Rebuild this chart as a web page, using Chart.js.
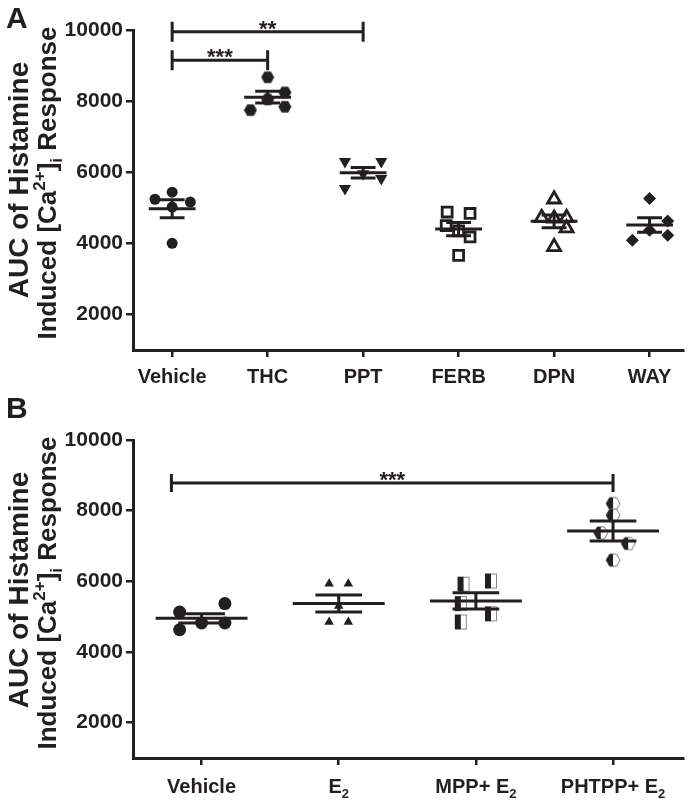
<!DOCTYPE html>
<html>
<head>
<meta charset="utf-8">
<script src="https://cdn.jsdelivr.net/npm/chart.js@4.4.1/dist/chart.umd.min.js"></script>
<style>
  html, body { margin: 0; padding: 0; background: #fff; }
  #wrap { position: relative; width: 694px; height: 801px; }
  .panel { position: absolute; left: 0; width: 694px; }
  #pa { top: 0; height: 390px; }
  #pb { top: 390px; height: 411px; }
</style>
</head>
<body>
<div id="wrap">
  <div class="panel" id="pa"><canvas id="chartA"></canvas></div>
  <div class="panel" id="pb"><canvas id="chartB"></canvas></div>
</div>
<script>
// ── data ─────────────────────────────────────────────
const Y_TICKS = [2000, 4000, 6000, 8000, 10000];
const Y_TITLE = ['AUC of Histamine', 'Induced [Ca^{2+}]_{i} Response'];

const A_GROUPS = ['Vehicle', 'THC', 'PPT', 'FERB', 'DPN', 'WAY'];
const A_VEHICLE = [5440, 5240, 5160, 5020, 4000];
const A_THC     = [8670, 8245, 8048, 7840, 7746];
const A_PPT     = [6300, 6300, 5960, 5820, 5540];
const A_FERB    = [4880, 4840, 4500, 4350, 4180, 3660];
const A_DPN     = [5240, 4720, 4720, 4700, 4430, 3900];
const A_WAY     = [5260, 4630, 4370, 4230, 4090];
// horizontal scatter of the dots (category units)
const A_JITTER = [
  [0, -0.18, 0.19, 0, 0],
  [0, 0.18, 0, 0.18, -0.18],
  [-0.19, 0.19, 0, 0.19, -0.19],
  [-0.12, 0.12, -0.13, 0, 0.12, 0],
  [0, -0.13, 0.13, 0, 0.13, 0],
  [0, 0.19, 0, 0.19, -0.18],
];
const A_SIG_FROM = [0, 0];
const A_SIG_TO = [1, 2];
const A_SIG_Y = [9150, 9950];
const A_SIG_LABEL = ['***', '**'];

const B_GROUPS = ['Vehicle', 'E_{2}', 'MPP+ E_{2}', 'PHTPP+ E_{2}'];
const B_VEHICLE = [5370, 5130, 4820, 4820, 4630];
const B_E2      = [5930, 5930, 5300, 4850, 4850];
const B_MPP     = [6010, 5920, 5370, 5080, 4850];
const B_PHTPP   = [8200, 7870, 7370, 7070, 6600];
const B_JITTER = [
  [0.17, -0.16, 0, 0.17, -0.16],
  [-0.07, 0.07, 0, -0.07, 0.07],
  [0.11, -0.09, -0.11, 0.11, -0.11],
  [0, 0, -0.09, 0.11, 0],
];
const B_SIG_FROM = [-0.22];
const B_SIG_TO = [3];
const B_SIG_Y = [8780];
const B_SIG_LABEL = ['***'];

// ── helpers ──────────────────────────────────────────
const FONT = "'Liberation Sans', Arial, Helvetica, sans-serif";
const INK = '#231f20';
const mean = (a) => a.reduce((s, v) => s + v, 0) / a.length;
const sem = (a) => {
  const m = mean(a);
  return Math.sqrt(a.reduce((s, v) => s + (v - m) ** 2, 0) / (a.length - 1)) / Math.sqrt(a.length);
};

const sprite = (w, h, draw) => {
  const c = document.createElement('canvas');
  c.width = w; c.height = h;
  draw(c.getContext('2d'), w, h);
  return c;
};
const hexPath = (g, cx, cy, r) => {
  g.beginPath();
  for (let k = 0; k < 6; k++) {
    const a = k * Math.PI / 3;
    g.lineTo(cx + r * Math.cos(a), cy + r * Math.sin(a));
  }
  g.closePath();
};
const HEX_FILL = sprite(14, 14, (g) => { hexPath(g, 7, 7, 6.5); g.fillStyle = INK; g.fill(); });
const HEX_HALF = sprite(16, 16, (g) => {
  hexPath(g, 8, 8, 7); g.fillStyle = '#fff'; g.fill();
  g.strokeStyle = '#777'; g.lineWidth = 1; g.stroke();
  g.beginPath();
  g.moveTo(8, 8 - 7 * 0.866); g.lineTo(8 - 3.5, 8 - 7 * 0.866); g.lineTo(1, 8);
  g.lineTo(8 - 3.5, 8 + 7 * 0.866); g.lineTo(8, 8 + 7 * 0.866); g.closePath();
  g.fillStyle = INK; g.fill();
});
const SQ_HALF = sprite(14, 17, (g) => {
  g.fillStyle = '#fff'; g.fillRect(1, 1, 12, 15);
  g.strokeStyle = '#888'; g.lineWidth = 1; g.strokeRect(6.5, 1.5, 6, 14);
  g.fillStyle = INK; g.fillRect(1, 1, 6, 15);
});

function richParts(str) {
  const out = []; const re = /([_^])\{([^}]*)\}/g; let last = 0, m;
  while ((m = re.exec(str))) {
    if (m.index > last) out.push({ t: str.slice(last, m.index), k: '' });
    out.push({ t: m[2], k: m[1] });
    last = re.lastIndex;
  }
  if (last < str.length) out.push({ t: str.slice(last), k: '' });
  return out;
}
function drawRich(ctx, str, x, y, size) {
  const ps = richParts(str); const small = Math.round(size * 0.64);
  const f = (s) => `bold ${s}px ${FONT}`;
  let w = 0;
  ps.forEach((p) => { ctx.font = f(p.k ? small : size); p.w = ctx.measureText(p.t).width; w += p.w; });
  let cx = x - w / 2;
  ctx.textAlign = 'left'; ctx.textBaseline = 'alphabetic';
  ps.forEach((p) => {
    ctx.font = f(p.k ? small : size);
    const dy = p.k === '^' ? -size * 0.42 : p.k === '_' ? size * 0.24 : 0;
    ctx.fillText(p.t, cx, y + dy);
    cx += p.w;
  });
}

// ── one panel ────────────────────────────────────────
function makePanel(o) {
  const datasets = [];
  const seg = [];
  o.series.forEach((vals, i) => {
    const m = mean(vals), s = sem(vals);
    seg.push(
      { x: i - o.meanHalf, y: m }, { x: i + o.meanHalf, y: m }, { x: i, y: null },
      { x: i - o.capHalf, y: m + s }, { x: i + o.capHalf, y: m + s }, { x: i, y: null },
      { x: i - o.capHalf, y: m - s }, { x: i + o.capHalf, y: m - s }, { x: i, y: null },
      { x: i, y: m - s }, { x: i, y: m + s }, { x: i, y: null }
    );
  });
  datasets.push({ type: 'scatter', data: seg, showLine: true, spanGaps: false,
    pointRadius: 0, borderColor: INK, borderWidth: 3, order: 0 });

  o.series.forEach((vals, i) => {
    const mk = o.marks[i];
    datasets.push({
      type: 'scatter',
      data: vals.map((v, k) => ({ x: i + o.jitter[i][k], y: v })),
      pointStyle: mk.style, pointRadius: mk.r, rotation: mk.rot || 0,
      backgroundColor: mk.fill, borderColor: INK, borderWidth: mk.bw || 0,
      order: 1,
    });
  });

  const deco = {
    id: 'deco',
    afterDraw(chart) {
      const { ctx, chartArea } = chart;
      const xs = chart.scales.x, ys = chart.scales.y;
      ctx.save();
      ctx.fillStyle = INK; ctx.strokeStyle = INK;
      // category labels
      o.groups.forEach((g, i) => drawRich(ctx, g, xs.getPixelForValue(i), chartArea.bottom + o.labelGap, 20));
      // significance brackets
      ctx.lineWidth = 3;
      o.sigY.forEach((v, k) => {
        const y = ys.getPixelForValue(v);
        const x1 = xs.getPixelForValue(o.sigFrom[k]), x2 = xs.getPixelForValue(o.sigTo[k]);
        ctx.beginPath();
        ctx.moveTo(x1, y); ctx.lineTo(x2, y);
        ctx.moveTo(x1, y - o.tick); ctx.lineTo(x1, y + o.tick);
        ctx.moveTo(x2, y - o.tick); ctx.lineTo(x2, y + o.tick);
        ctx.stroke();
        ctx.font = `bold 22px ${FONT}`; ctx.textAlign = 'center'; ctx.textBaseline = 'alphabetic';
        ctx.fillText(o.sigLabel[k], (x1 + x2) / 2, y + 4);
      });
      // y title (two lines, rotated)
      Y_TITLE.forEach((line, k) => {
        ctx.save();
        ctx.translate(k === 0 ? 28 : 56, chartArea.top + (k === 0 ? 150 : 153));
        ctx.rotate(-Math.PI / 2);
        drawRich(ctx, line, 0, 0, k === 0 ? 28 : 26);
        ctx.restore();
      });
      // panel letter
      ctx.font = `bold 30px ${FONT}`; ctx.textAlign = 'left'; ctx.textBaseline = 'alphabetic';
      ctx.fillText(o.letter, 6, 28);
      ctx.restore();
    },
  };

  const axisGrid = { drawOnChartArea: false, drawTicks: true, tickLength: 7, color: INK, lineWidth: 2.5 };
  new Chart(document.getElementById(o.id), {
    type: 'scatter',
    data: { datasets },
    options: {
      responsive: true, maintainAspectRatio: false, animation: false,
      layout: { padding: { top: o.top, right: o.right, left: 0, bottom: 0 } },
      plugins: { legend: { display: false }, tooltip: { enabled: false } },
      scales: {
        x: {
          type: 'linear', min: o.xMin, max: o.xMax,
          afterBuildTicks: (s) => { s.ticks = o.groups.map((_, i) => ({ value: i })); },
          afterFit: (s) => { s.height = o.xHeight; },
          ticks: { display: false },
          grid: axisGrid, border: { color: INK, width: 3 },
        },
        y: {
          type: 'linear', min: 1000, max: 10000,
          afterBuildTicks: (s) => { s.ticks = Y_TICKS.map((v) => ({ value: v })); },
          afterFit: (s) => { s.width = 133; },
          ticks: { color: INK, padding: 3, font: { family: FONT, size: 21, weight: 'bold' },
            callback: (v) => String(v) },
          grid: axisGrid, border: { color: INK, width: 3 },
        },
      },
    },
    plugins: [deco],
  });
}

makePanel({
  id: 'chartA', letter: 'A', groups: A_GROUPS,
  series: [A_VEHICLE, A_THC, A_PPT, A_FERB, A_DPN, A_WAY], jitter: A_JITTER,
  sigFrom: A_SIG_FROM, sigTo: A_SIG_TO, sigY: A_SIG_Y, sigLabel: A_SIG_LABEL,
  marks: [
    { style: 'circle', r: 5.5, fill: INK },
    { style: HEX_FILL, r: 7, fill: INK },
    { style: 'triangle', r: 7, rot: 180, fill: INK },
    { style: 'rect', r: 7, fill: '#fff', bw: 2.8 },
    { style: 'triangle', r: 7.5, fill: '#fff', bw: 2.8 },
    { style: 'rectRot', r: 6.5, fill: INK },
  ],
  meanHalf: 0.245, capHalf: 0.13, tick: 10,
  xMin: -0.41, xMax: 5.35, top: 30, right: 11, xHeight: 40, labelGap: 33,
});

makePanel({
  id: 'chartB', letter: 'B', groups: B_GROUPS,
  series: [B_VEHICLE, B_E2, B_MPP, B_PHTPP], jitter: B_JITTER,
  sigFrom: B_SIG_FROM, sigTo: B_SIG_TO, sigY: B_SIG_Y, sigLabel: B_SIG_LABEL,
  marks: [
    { style: 'circle', r: 6.5, fill: INK },
    { style: 'triangle', r: 5.5, fill: INK },
    { style: SQ_HALF, r: 8, fill: INK },
    { style: HEX_HALF, r: 8, fill: INK },
  ],
  meanHalf: 0.335, capHalf: 0.17, tick: 9,
  xMin: -0.5, xMax: 3.51, top: 50, right: 11, xHeight: 43, labelGap: 35,
});
</script>
</body>
</html>
